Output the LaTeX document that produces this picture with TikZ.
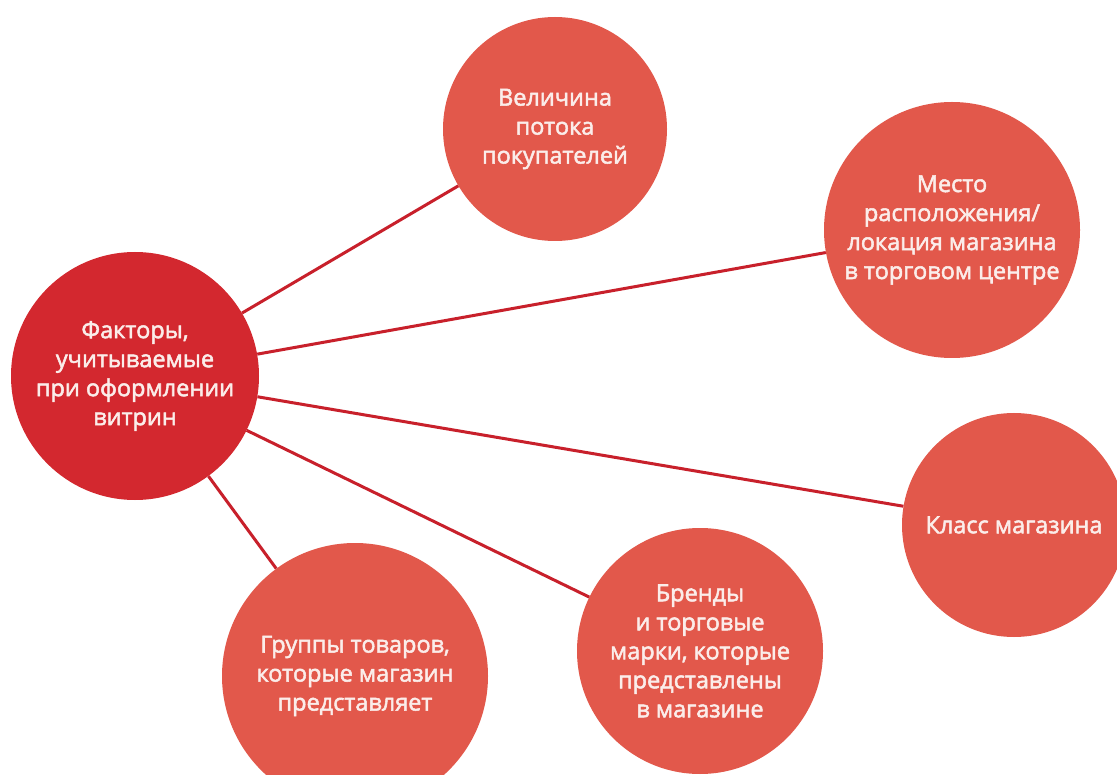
\documentclass[tikz,border=0pt]{standalone}
\usepackage{fontspec}
\setmainfont{Open Sans}[FakeBold=2.2]
\definecolor{mainred}{HTML}{D3282F}
\definecolor{subred}{HTML}{E2584B}
\definecolor{linered}{HTML}{C8202B}
\definecolor{txt}{HTML}{FBEDEA}
\begin{document}
\begin{tikzpicture}[x=1pt,y=-1pt,
  bubble/.style={circle, fill=subred, text=txt, align=center, inner sep=0pt,
    font=\fontsize{23.5}{29}\selectfont},
  hub/.style={bubble, fill=mainred},
  link/.style={draw=linered, line width=3pt}]
\useasboundingbox[fill=white] (0,0) rectangle (1117,775);
\node[hub, minimum size=248pt] (c) at (135,376) {Факторы,\\учитываемые\\при оформлении\\витрин};
\node[bubble, minimum size=224pt] (flow) at (555,129) {Величина\\потока\\покупателей};
\node[bubble, minimum size=256pt] (loc) at (952,230) {Место\\расположения/\\локация магазина\\в торговом центре};
\node[bubble, minimum size=224pt] (cls) at (1014,525) {Класс магазина};
\node[bubble, minimum size=246pt] (brand) at (700,651) {Бренды\\и торговые\\марки, которые\\представлены\\в магазине};
\node[bubble, minimum size=266pt] (grp) at (355,676) {Группы товаров,\\которые магазин\\представляет};
\draw[link] (c) -- (flow);
\draw[link] (c) -- (loc);
\draw[link] (c) -- (cls);
\draw[link] (c) -- (brand);
\draw[link] (c) -- (grp);
\end{tikzpicture}
\end{document}
